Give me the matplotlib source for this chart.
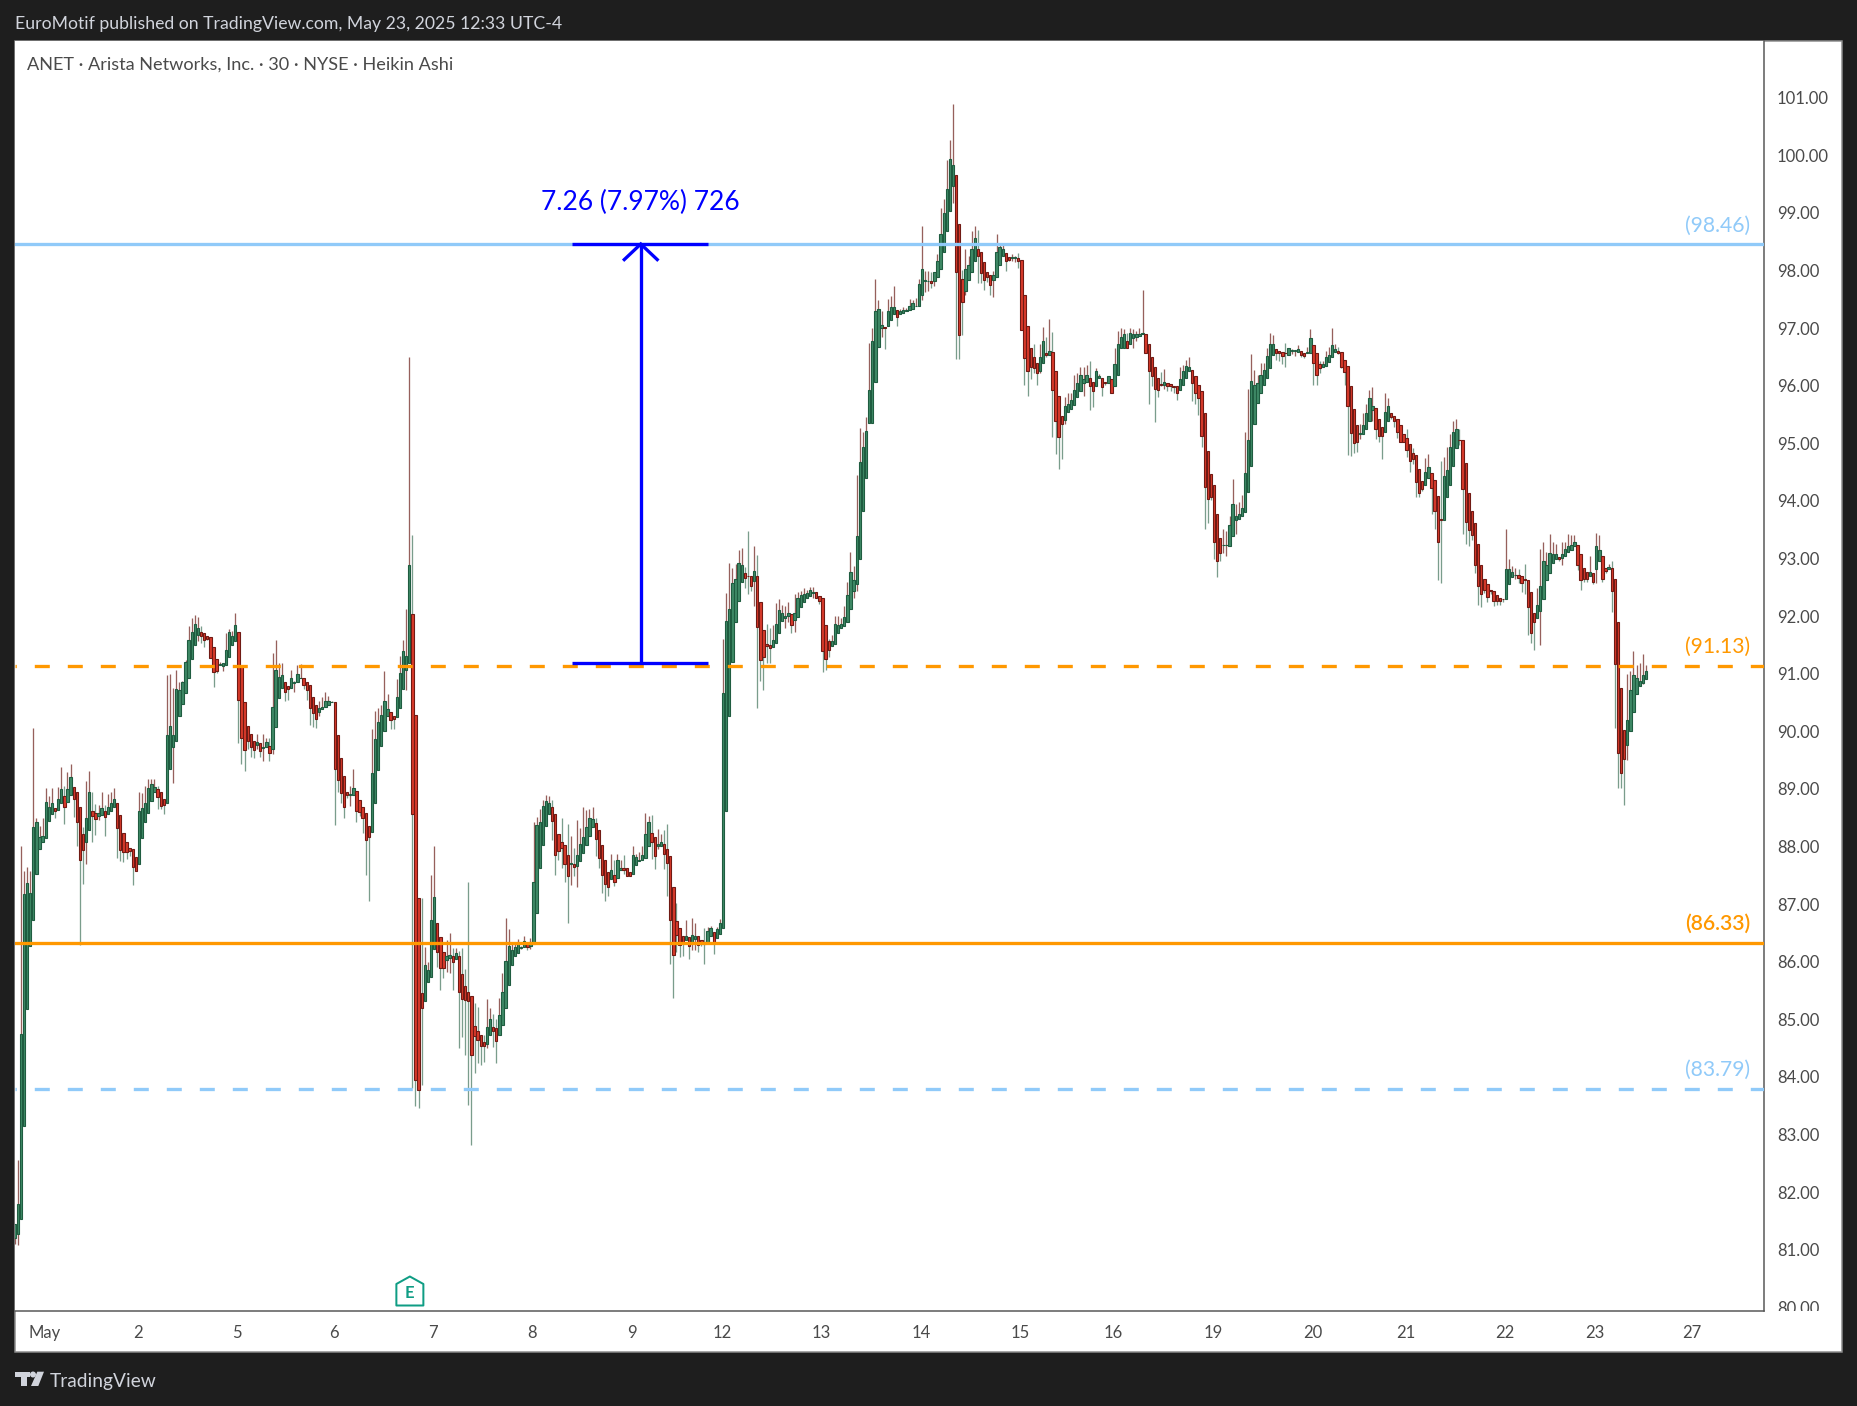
import matplotlib
matplotlib.use("Agg")
import matplotlib.pyplot as plt
from matplotlib.patches import Polygon, Rectangle, Circle
from matplotlib.transforms import Bbox

plt.rcParams['font.family'] = ['Lato', 'DejaVu Sans']
plt.rcParams['lines.scale_dashes'] = False

opens = [
81.2,81.28,81.54,83.14,85.17,86.28,86.73,87.52,87.96,88.07,
88.14,88.45,88.57,88.66,88.64,88.75,88.87,88.78,88.89,89.04,
88.94,88.68,88.22,88.08,88.28,88.62,88.59,88.53,88.55,88.61,
88.56,88.62,88.69,88.76,88.54,88.24,88.07,87.98,87.96,87.81,
87.70,88.15,88.42,88.59,88.79,88.95,89.0,88.94,88.82,88.76,
89.35,89.73,89.83,90.27,90.48,90.67,90.93,91.26,91.49,91.68,
91.73,91.70,91.65,91.63,91.46,91.25,91.15,91.14,91.15,91.29,
91.50,91.57,91.72,91.13,90.50,90.10,89.96,89.84,89.77,89.79,
89.71,89.72,89.75,89.70,90.07,90.57,90.76,90.86,90.78,90.75,
90.84,90.85,90.92,90.92,90.86,90.80,90.60,90.45,90.33,90.39,
90.43,90.46,90.50,90.50,89.93,89.53,89.22,88.95,88.90,88.90,
88.97,88.80,88.69,88.59,88.36,88.26,88.76,89.32,89.74,90.01,
90.27,90.33,90.26,90.24,90.41,90.73,91.06,91.18,92.03,90.29,
87.11,85.45,85.32,85.64,85.74,86.22,86.68,86.42,86.16,86.03,
86.06,86.09,86.05,86.09,85.78,85.57,85.47,85.40,84.89,84.80,
84.72,84.61,84.57,84.73,84.87,84.84,84.73,84.90,85.19,85.60,
85.94,86.09,86.15,86.24,86.26,86.31,86.27,86.31,86.85,87.62,
88.02,88.36,88.57,88.68,88.57,88.21,88.07,88.03,87.86,87.70,
87.69,87.66,87.75,87.89,88.03,88.18,88.34,88.40,88.28,88.03,
87.77,87.56,87.44,87.51,87.46,87.60,87.62,87.62,87.55,87.52,
87.68,87.74,87.76,87.80,88.01,88.23,88.16,88.0,88.01,88.05,
87.96,87.84,87.29,86.70,86.59,86.44,86.38,86.42,86.33,86.39,
86.44,86.37,86.35,86.33,86.44,86.51,86.41,86.48,86.58,88.62,
90.27,91.21,91.89,92.27,92.60,92.74,92.70,92.70,92.61,92.70,
92.25,91.75,91.52,91.50,91.47,91.54,91.71,91.92,91.97,92.0,
92.03,91.94,91.99,92.15,92.25,92.32,92.35,92.40,92.41,92.35,
92.31,91.85,91.56,91.48,91.52,91.70,91.79,91.82,91.90,92.13,
92.44,92.55,92.99,93.83,94.39,95.36,95.36,96.07,96.68,97.0,
97.02,97.03,97.14,97.25,97.31,97.25,97.27,97.30,97.31,97.34,
97.38,97.39,97.58,97.81,97.81,97.81,97.81,97.88,98.03,98.33,
98.68,99.04,99.47,99.66,98.81,97.85,97.65,97.84,97.98,98.17,
98.38,98.33,98.14,97.98,97.93,97.83,97.88,98.10,98.25,98.31,
98.24,98.22,98.22,98.21,98.19,97.58,97.03,96.65,96.49,96.40,
96.26,96.40,96.57,96.54,96.59,96.26,95.83,95.48,95.40,95.54,
95.60,95.66,95.81,95.91,96.04,96.06,96.14,96.06,95.99,96.13,
96.14,96.06,96.05,96.11,95.99,96.18,96.65,96.65,96.77,96.72,
96.82,96.85,96.87,96.89,96.90,96.73,96.49,96.33,96.14,96.03,
96.02,96.04,96.03,96.0,95.99,95.93,96.02,96.14,96.25,96.28,
96.16,96.02,95.90,95.52,94.87,94.46,94.27,93.78,93.36,93.23,
93.23,93.22,93.39,93.67,93.69,93.74,93.81,94.15,94.60,95.34,
95.70,95.87,96.02,96.14,96.31,96.53,96.63,96.61,96.58,96.57,
96.54,96.60,96.60,96.59,96.61,96.57,96.56,96.57,96.71,96.56,
96.37,96.33,96.35,96.42,96.49,96.59,96.61,96.59,96.45,96.35,
96.0,95.60,95.31,95.17,95.17,95.25,95.38,95.58,95.62,95.43,
95.29,95.20,95.38,95.52,95.48,95.43,95.31,95.17,95.10,94.99,
94.84,94.79,94.56,94.35,94.28,94.39,94.49,94.37,94.09,93.69,
93.67,94.06,94.28,94.61,94.91,95.06,95.06,94.65,94.14,93.83,
93.62,93.26,92.89,92.65,92.55,92.45,92.44,92.36,92.32,92.30,
92.29,92.56,92.68,92.71,92.72,92.70,92.65,92.63,92.41,92.06,
91.97,92.08,92.30,92.63,92.75,92.93,93.0,93.03,93.01,93.05,
93.12,93.15,93.21,93.24,93.07,92.84,92.76,92.70,92.74,92.82,
92.95,93.05,92.84,92.82,92.84,92.65,91.90,90.76,90.03,89.77,
90.0,90.34,90.65,90.79,90.84,90.91]

closes = [
81.44,81.80,84.75,87.18,87.37,87.20,88.33,88.42,88.16,88.18,
88.77,88.69,88.76,88.62,88.83,88.99,88.69,88.99,89.20,88.83,
88.43,87.77,87.94,88.49,88.95,88.53,88.48,88.59,88.66,88.51,
88.69,88.76,88.83,88.32,87.94,87.90,87.90,87.92,87.65,87.58,
88.62,88.66,88.76,89.01,89.09,89.04,88.86,88.70,88.72,89.94,
90.10,89.94,90.73,90.71,90.85,91.21,91.58,91.73,91.87,91.79,
91.66,91.59,91.61,91.28,91.03,91.05,91.17,91.19,91.42,91.73,
91.65,91.84,90.55,89.89,89.68,89.83,89.73,89.68,89.81,89.65,
89.72,89.81,89.63,90.43,91.07,90.95,90.97,90.69,90.74,90.93,
90.85,90.99,90.93,90.81,90.71,90.41,90.31,90.21,90.41,90.43,
90.53,90.53,90.51,89.34,89.15,88.92,88.69,88.89,88.91,89.02,
88.62,88.60,88.49,88.12,88.17,89.27,89.86,90.17,90.29,90.53,
90.38,90.19,90.22,90.59,91.02,91.39,91.30,92.88,88.57,83.95,
83.78,85.20,85.95,85.85,86.72,87.13,86.17,85.89,85.89,86.10,
86.12,86.0,86.15,85.48,85.36,85.34,85.32,84.38,84.71,84.64,
84.53,84.54,84.87,85.01,84.80,84.63,85.08,85.48,86.02,86.28,
86.21,86.25,86.31,86.26,86.36,86.26,86.34,87.39,88.38,88.42,
88.71,88.79,88.76,88.44,87.85,87.92,87.98,87.70,87.49,87.71,
87.65,87.85,88.05,88.17,88.33,88.50,88.47,88.13,87.80,87.51,
87.35,87.30,87.60,87.39,87.77,87.63,87.60,87.49,87.49,87.85,
87.81,87.77,87.86,88.21,88.43,88.08,87.84,88.05,88.07,87.87,
87.72,86.73,86.12,86.47,86.29,86.33,86.44,86.27,86.47,86.45,
86.29,86.32,86.31,86.54,86.58,86.32,86.56,86.68,90.67,91.92,
92.13,92.57,92.65,92.93,92.88,92.66,92.69,92.53,92.79,91.81,
91.24,91.29,91.48,91.45,91.59,91.87,92.11,92.05,92.01,92.05,
91.85,92.05,92.31,92.36,92.38,92.40,92.46,92.42,92.31,92.27,
91.40,91.26,91.41,91.56,91.87,91.85,91.87,91.99,92.36,92.77,
92.63,93.39,94.68,94.94,95.22,95.93,96.77,97.29,97.34,97.06,
97.0,97.29,97.36,97.36,97.20,97.29,97.31,97.31,97.39,97.43,
97.39,97.76,98.03,97.83,97.82,97.79,97.97,98.17,98.64,99.0,
99.41,99.93,99.84,97.98,96.88,97.46,98.02,98.10,98.38,98.57,
98.25,97.95,97.83,97.88,97.74,97.93,98.33,98.40,98.37,98.17,
98.19,98.23,98.23,98.16,96.97,96.48,96.26,96.33,96.31,96.22,
96.49,96.77,96.54,96.61,95.93,95.39,95.11,95.33,95.65,95.69,
95.76,95.93,96.04,96.18,96.11,96.19,95.99,95.90,96.25,96.16,
95.97,96.05,96.16,95.88,96.37,96.73,96.85,96.89,96.66,96.92,
96.89,96.89,96.90,96.92,96.56,96.26,96.16,95.95,95.93,96.02,
96.06,96.0,95.99,95.97,95.88,96.11,96.25,96.35,96.32,96.04,
95.88,95.78,95.13,94.25,94.04,94.07,93.28,92.95,93.09,93.24,
93.24,93.59,93.94,93.73,93.78,93.87,94.49,95.05,96.09,96.02,
96.04,96.18,96.28,96.51,96.73,96.73,96.57,96.57,96.51,96.56,
96.66,96.61,96.61,96.63,96.54,96.52,96.59,96.83,96.39,96.19,
96.30,96.37,96.50,96.54,96.70,96.64,96.57,96.33,96.23,95.65,
95.18,95.01,95.03,95.18,95.32,95.52,95.78,95.65,95.25,95.13,
95.12,95.55,95.64,95.45,95.38,95.19,95.03,95.03,94.89,94.70,
94.72,94.33,94.13,94.21,94.51,94.59,94.23,93.83,93.28,93.66,
94.44,94.53,94.94,95.19,95.24,95.05,94.21,93.63,93.50,93.41,
92.88,92.53,92.39,92.46,92.33,92.43,92.26,92.26,92.26,92.29,
92.82,92.82,92.77,92.72,92.67,92.58,92.63,92.16,91.71,91.89,
92.20,92.53,92.96,92.88,93.10,93.07,93.07,93.0,93.08,93.17,
93.21,93.24,93.28,92.89,92.62,92.65,92.65,92.77,92.60,93.21,
93.15,92.65,92.79,92.86,92.44,91.17,89.63,89.28,89.52,90.20,
90.71,90.97,90.93,90.88,90.98,91.05]

highs = [
81.44,82.55,88.0,87.57,87.65,87.57,90.05,88.5,88.36,88.49,
89.02,88.87,89.02,88.66,89.04,89.38,89.05,89.29,89.43,89.04,
88.94,88.68,88.33,89.13,89.31,88.95,88.73,88.72,88.95,88.72,
88.91,88.95,89.02,88.76,88.54,88.24,88.07,87.98,87.96,87.81,
88.95,88.93,89.05,89.17,89.17,89.17,89.05,88.94,88.82,90.97,
90.99,90.75,91.06,90.86,90.88,91.23,91.83,91.96,92.02,91.98,
91.83,91.70,91.65,91.63,91.46,91.25,91.2,91.19,91.70,91.77,
91.74,92.05,91.72,91.13,90.50,90.10,89.96,89.84,89.95,89.79,
89.95,89.89,89.88,91.36,91.58,91.19,91.18,90.86,90.78,91.06,
90.87,91.15,91.17,90.92,90.86,90.80,90.60,90.45,90.53,90.59,
90.69,90.62,90.52,90.50,89.93,89.53,89.22,88.95,89.05,89.35,
88.97,88.80,88.69,88.59,88.36,90.04,90.35,90.41,90.45,91.04,
90.64,90.33,90.26,90.91,91.31,91.58,92.12,96.5,93.41,90.29,
87.11,87.1,86.26,86.0,87.50,88.0,86.68,86.42,86.16,86.37,
86.49,86.23,86.23,86.18,86.23,85.88,87.38,85.40,85.29,85.22,
84.72,84.72,85.35,85.19,85.10,85.0,85.37,85.80,86.75,86.56,
86.34,86.32,86.39,86.28,86.44,86.31,86.41,88.42,88.51,88.65,
88.81,88.89,88.87,88.80,88.57,88.21,88.49,88.03,88.39,88.18,
87.98,88.46,88.32,88.68,88.63,88.65,88.68,88.5,88.28,88.03,
87.77,87.56,87.87,87.77,87.87,87.77,87.85,87.62,87.55,88.0,
87.87,87.90,88.01,88.58,88.53,88.54,88.16,88.30,88.21,88.28,
88.39,87.84,87.29,87.02,86.59,86.44,86.72,86.42,86.76,86.68,
86.44,86.37,86.58,86.61,86.62,86.51,86.6,86.74,91.60,92.40,
92.93,92.84,92.90,93.14,93.19,92.86,93.47,92.70,93.21,93.06,
92.25,91.75,91.86,91.80,91.84,92.22,92.29,92.19,92.18,92.24,
92.03,92.38,92.42,92.43,92.48,92.46,92.50,92.50,92.41,92.35,
92.31,91.85,91.6,91.67,92.0,92.0,91.96,92.18,92.60,93.12,
92.87,94.45,95.26,95.19,95.45,96.75,97.0,97.86,97.49,97.3,
97.02,97.5,97.56,97.73,97.31,97.34,97.36,97.35,97.51,97.49,
97.53,97.86,98.77,98.0,97.99,97.97,97.98,98.28,99.08,99.24,
99.92,100.27,100.89,99.66,98.81,98.01,98.38,98.25,98.68,98.77,
98.70,98.33,98.14,97.98,97.93,98.0,98.63,98.46,98.46,98.31,
98.24,98.29,98.26,98.3,98.19,97.58,97.03,96.65,96.72,96.40,
96.72,97.02,96.85,97.15,96.94,96.26,95.83,95.48,95.8,95.88,
95.88,96.18,96.22,96.32,96.32,96.36,96.43,96.06,96.30,96.2,
96.14,96.06,96.16,96.11,96.66,96.95,97.0,96.98,96.92,97.0,
96.98,96.95,97.01,97.66,96.90,96.73,96.49,96.33,96.14,96.23,
96.29,96.04,96.03,96.0,95.99,96.33,96.36,96.45,96.49,96.28,
96.16,96.02,95.90,95.52,94.87,94.46,94.27,93.78,93.36,93.52,
93.48,93.73,94.38,93.94,93.98,94.10,95.19,95.94,96.55,96.27,
96.19,96.40,96.40,96.66,96.91,96.88,96.63,96.61,96.58,96.75,
96.66,96.63,96.62,96.70,96.61,96.57,96.68,96.98,96.71,96.56,
96.43,96.43,96.60,96.67,97.0,96.73,96.67,96.59,96.45,96.35,
96.0,95.60,95.31,95.33,95.52,95.69,95.92,95.97,95.62,95.43,
95.29,95.88,95.78,95.52,95.48,95.43,95.31,95.17,95.24,94.99,
94.91,94.79,94.56,94.35,94.74,94.81,94.49,94.37,94.09,94.70,
94.76,94.93,95.17,95.38,95.42,95.25,95.06,94.65,94.14,93.83,
93.62,93.26,92.89,92.65,92.55,92.45,92.44,92.36,92.32,92.30,
93.51,93.0,92.87,92.84,92.81,92.70,92.90,92.63,92.41,92.06,
92.49,93.16,93.28,93.12,93.42,93.28,93.26,93.03,93.29,93.29,
93.43,93.40,93.40,93.24,93.07,92.84,92.76,93.04,92.74,93.45,
93.40,93.05,92.84,92.9,92.96,92.65,91.90,90.76,90.03,91.0,
91.05,91.39,91.15,91.19,91.34,91.15]

lows = [
81.1,81.08,81.54,83.14,85.17,86.28,86.73,87.52,87.96,88.07,
88.14,88.45,88.57,88.49,88.64,88.75,88.39,88.78,88.89,88.51,
88.01,86.29,87.35,87.69,88.28,88.08,88.20,88.46,88.55,88.18,
88.56,88.62,88.69,87.80,87.75,87.73,87.78,87.84,87.33,87.58,
87.70,88.15,88.42,88.59,88.79,88.95,88.65,88.65,88.56,88.76,
89.35,89.10,89.83,90.27,90.48,90.67,90.93,91.26,91.49,91.57,
91.54,91.46,91.59,91.28,90.77,91.02,91.15,91.05,91.15,91.29,
91.50,91.57,89.79,89.43,89.31,89.69,89.56,89.53,89.69,89.56,
89.49,89.72,89.49,89.60,90.07,90.57,90.76,90.53,90.54,90.75,
90.69,90.85,90.92,90.73,90.54,90.11,90.07,90.06,90.27,90.39,
90.43,90.46,90.50,88.38,88.94,88.76,88.50,88.85,88.71,88.90,
88.42,88.53,88.24,87.51,87.06,88.26,88.76,89.32,89.74,90.01,
90.27,90.04,90.04,90.24,90.41,90.73,90.72,91.18,83.81,83.50,
83.46,83.86,85.32,85.64,85.74,86.22,85.90,85.51,85.72,85.82,
85.80,85.51,86.05,84.50,84.69,84.38,83.51,82.82,84.07,84.24,
84.21,84.26,84.50,84.73,84.52,84.24,84.73,84.90,85.19,85.60,
85.94,86.09,86.15,86.22,86.26,86.2,86.22,86.31,86.85,87.62,
88.02,88.36,88.57,88.11,87.51,87.77,87.62,87.39,86.67,87.33,
87.49,87.30,87.75,87.89,88.03,88.18,88.34,87.84,87.63,87.19,
87.05,87.14,87.44,87.32,87.46,87.60,87.53,87.49,87.49,87.52,
87.68,87.74,87.76,87.80,88.01,87.79,87.61,87.95,88.01,87.61,
87.14,85.96,85.37,86.16,86.08,86.10,86.38,86.04,86.2,86.2,
86.17,86.28,85.96,86.33,86.44,86.13,86.41,86.48,86.58,88.62,
90.27,91.21,91.89,92.27,92.60,92.48,92.38,92.43,92.18,90.40,
90.87,90.71,91.19,91.19,91.47,91.54,91.71,91.92,91.79,91.9,
91.70,91.72,91.99,92.15,92.25,92.32,92.35,92.32,92.31,92.21,
91.03,91.06,91.29,91.48,91.52,91.70,91.79,91.82,91.90,92.13,
92.32,92.44,92.99,93.83,94.39,95.36,95.36,96.07,96.68,96.84,
96.63,97.03,97.14,97.25,97.03,97.25,97.27,97.30,97.31,97.34,
97.38,97.39,97.49,97.62,97.65,97.69,97.73,97.88,98.03,98.33,
98.68,99.04,99.18,96.46,96.46,96.88,97.57,97.84,97.98,98.17,
97.79,97.79,97.66,97.8,97.57,97.54,97.88,98.10,98.25,98.0,
98.17,98.17,98.14,98.04,96.97,96.01,95.82,96.12,96.22,96.01,
96.22,96.40,96.5,96.54,95.11,94.81,94.55,94.72,95.33,95.54,
95.60,95.66,95.81,95.91,95.82,96.06,95.58,95.63,95.99,96.13,
95.82,96.02,96.05,95.88,95.99,96.18,96.65,96.65,96.66,96.72,
96.66,96.77,96.87,96.89,96.56,95.68,95.99,95.37,95.81,96.0,
95.94,95.91,95.91,95.88,95.75,95.93,96.02,96.14,96.25,95.74,
95.68,95.49,94.93,93.51,93.61,94.02,93.0,92.68,92.95,93.10,
93.05,93.22,93.39,93.42,93.69,93.74,93.81,94.15,94.60,95.34,
95.70,95.87,96.02,96.14,96.31,96.53,96.45,96.43,96.38,96.32,
96.54,96.55,96.52,96.59,96.50,96.48,96.56,96.57,96.02,96.02,
96.22,96.33,96.35,96.42,96.49,96.59,96.55,96.3,96.01,94.80,
94.78,94.84,94.85,95.07,95.17,95.25,95.38,95.38,95.07,95.03,
94.72,95.20,95.38,95.42,95.28,95.10,95.03,95.03,94.76,94.50,
94.64,94.07,94.07,94.18,94.28,94.39,93.77,93.51,92.62,92.57,
93.67,94.06,94.28,94.61,94.91,94.97,93.42,93.26,93.21,93.32,
92.75,92.20,92.16,92.4,92.25,92.38,92.18,92.2,92.2,92.25,
92.29,92.56,92.68,92.65,92.57,92.41,92.38,91.68,91.54,91.42,
91.97,91.50,92.30,92.63,92.75,92.93,93.0,92.95,92.89,93.05,
93.12,93.15,93.21,92.8,92.45,92.6,92.6,92.70,92.55,92.57,
92.95,92.59,92.75,92.82,92.07,90.05,89.01,89.01,88.72,89.50,
90.0,90.34,90.65,90.79,90.82,90.91]

price_ticks = [80, 81, 82, 83, 84, 85, 86, 87, 88, 89, 90, 91, 92, 93, 94, 95, 96, 97, 98, 99, 100, 101]
date_labels = ['May', '2', '5', '6', '7', '8', '9', '12', '13', '14', '15', '16', '19', '20', '21', '22', '23', '27']
date_bars = [10, 40, 72, 103, 135, 167, 199, 228, 260, 292, 324, 354, 386, 418, 448, 480, 509, 540]
level_solid_blue = 98.46
level_dash_orange = 91.13
level_solid_orange = 86.33
level_dash_blue = 83.79
measure_low = 91.18
measure_high = 98.46
measure_bars = (179.4, 201.5, 223.2)
earnings_bar = 127.2

W, H = 1857, 1406
L, R, T, B = 15, 1764, 41, 1311
OUT_R, OUT_B = 1842, 1352
BG = '#1e1e1e'
LIGHT = '#d1d4dc'
DARK_TXT = '#4a4a4a'
ORANGE = '#ff9800'
SKY = '#90caf9'
BLUE = '#0000ff'
px = 0.72  # points per pixel at dpi 100

fig = plt.figure(figsize=(W / 100, H / 100), dpi=100, facecolor=BG)
fig.add_artist(Rectangle((L / W, 1 - OUT_B / H), (OUT_R - L) / W, (OUT_B - T) / H, transform=fig.transFigure,
                         facecolor='white', edgecolor='#8c8c8c', linewidth=1.5 * px, zorder=-5))

ax = fig.add_axes([L / W, 1 - B / H, (R - L) / W, (B - T) / H], facecolor='white')
ax.set_xlim(0.11, 563.0)
ax.set_ylim(79.935, 101.985)
for side in ('left', 'top'):
    ax.spines[side].set_visible(False)
for side in ('right', 'bottom'):
    ax.spines[side].set_color('#555555')
    ax.spines[side].set_linewidth(1.5 * px)

idx = list(range(len(opens)))
is_up = [c >= o for o, c in zip(opens, closes)]

# wick colour is the opposite of the body colour in this chart
ax.vlines(idx, lows, highs, colors=['#96605c' if u else '#7a9d8c' for u in is_up], linewidth=1.3 * px, zorder=2)
ax.bar(idx, [max(abs(c - o), 0.012) for o, c in zip(opens, closes)],
       bottom=[min(o, c) for o, c in zip(opens, closes)], width=0.76,
       color=['#3f8a66' if u else '#d93a2b' for u in is_up],
       edgecolor=['#1f5c40' if u else '#701a14' for u in is_up], linewidth=1.1 * px, zorder=3)

line_w = 3.3 * px
dash = (13.7 * px, (15 * px, 18 * px))
ax.axhline(level_solid_blue, color=SKY, linewidth=line_w, zorder=4)
ax.axhline(level_solid_orange, color=ORANGE, linewidth=line_w, zorder=4)
for lvl, col in ((level_dash_orange, ORANGE), (level_dash_blue, SKY)):
    ax.axhline(lvl, color=col, linewidth=line_w, linestyle=dash, dash_capstyle='butt', zorder=4)

m0, mc, m1 = measure_bars
ax.plot([m0, m1], [measure_low, measure_low], color=BLUE, lw=line_w, solid_capstyle='butt', zorder=5)
ax.plot([m0, m1], [measure_high, measure_high], color=BLUE, lw=line_w, solid_capstyle='butt', zorder=5)
ax.plot([mc, mc], [measure_low, measure_high], color=BLUE, lw=line_w, solid_capstyle='butt', zorder=5)
ax.plot([mc - 5.3, mc, mc + 5.3], [measure_high - 0.27, measure_high, measure_high - 0.27],
        color=BLUE, lw=line_w, solid_joinstyle='miter', zorder=5)
ax.text(mc, 99.18, '7.26 (7.97%) 726', color=BLUE, fontsize=19, ha='center', va='center', zorder=6)

for y_px, txt, col, wt in ((225.5, '(98.46)', SKY, 'normal'), (647, '(91.13)', ORANGE, 'normal'),
                           (923.5, '(86.33)', ORANGE, 'semibold'), (1070, '(83.79)', SKY, 'normal')):
    fig.text(1750 / W, 1 - y_px / H, txt, color=col, fontsize=15.2, fontweight=wt, ha='right', va='center')

ax.yaxis.tick_right()
ax.set_yticks(price_ticks)
ax.set_yticklabels([f'{p:.2f}' for p in price_ticks], color=DARK_TXT, fontsize=12)
ax.tick_params(axis='y', length=0, pad=13 * px)
clip = Bbox([[R, H - B], [OUT_R, H - T]])
for lab in ax.get_yticklabels():
    lab.set_clip_box(clip)
    lab.set_clip_on(True)
ax.set_xticks([b - 0.35 for b in date_bars])
ax.set_xticklabels(date_labels, color=DARK_TXT, fontsize=12)
ax.tick_params(axis='x', length=0, pad=14 * px)

# earnings marker
earn_x = 14.66 + earnings_bar * 3.107
def fp(x, y):
    return (x / W, 1 - y / H)
fig.add_artist(Polygon([fp(earn_x - 13.5, 1305.5), fp(earn_x - 13.5, 1284), fp(earn_x, 1276.5), fp(earn_x + 13.5, 1284),
                        fp(earn_x + 13.5, 1305.5)], closed=True, transform=fig.transFigure, facecolor='white',
                       edgecolor='#0f9d84', linewidth=2 * px, joinstyle='round', zorder=8))
fig.text(earn_x / W, 1 - 1292.5 / H, 'E', color='#0f9d84', fontsize=12, fontweight='bold', ha='center', va='center', zorder=9)

fig.text(15 / W, 1 - 24 / H, 'EuroMotif published on TradingView.com, May 23, 2025 12:33 UTC-4', color=LIGHT, fontsize=12.7, va='center')
fig.text(27 / W, 1 - 64.5 / H, 'ANET · Arista Networks, Inc. · 30 · NYSE · Heikin Ashi', color=DARK_TXT, fontsize=13.1, va='center')

# logo
for poly in ([(15, 1371.7), (30, 1371.7), (30, 1377.3), (26.7, 1377.3), (26.7, 1386), (20.7, 1386), (20.7, 1377.3), (15, 1377.3)],
             [(37.3, 1371.7), (44, 1371.7), (38.3, 1386), (31, 1386)]):
    fig.add_artist(Polygon([fp(*p) for p in poly], closed=True, transform=fig.transFigure, facecolor=LIGHT, edgecolor='none'))
fig.add_artist(Circle((33 / W * W, H - 1374.5), 3, transform=None, facecolor=LIGHT, edgecolor='none'))
fig.text(50 / W, 1 - 1381.5 / H, 'TradingView', color=LIGHT, fontsize=13.8, va='center')

fig.savefig('out.png', dpi=100, facecolor=BG)
